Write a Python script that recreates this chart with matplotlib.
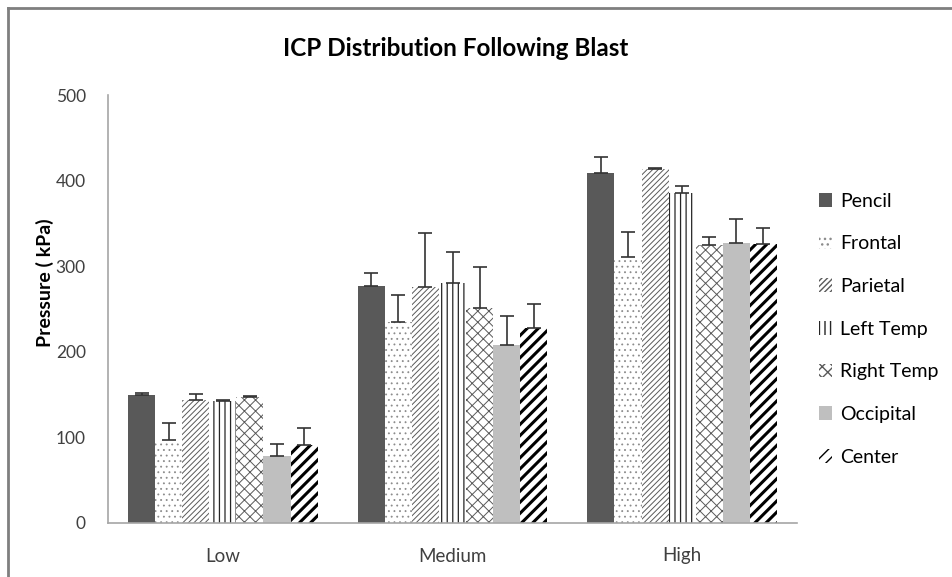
import matplotlib
matplotlib.use("Agg")
import matplotlib.pyplot as plt
import numpy as np

plt.rcParams['font.family'] = ['Lato', 'DejaVu Sans']

# data
groups = ["Low", "Medium", "High"]
series = ["Pencil", "Frontal", "Parietal", "Left Temp", "Right Temp", "Occipital", "Center"]
values = [
    [149, 277, 409],   # Pencil
    [96, 235, 310],    # Frontal
    [143, 275, 414],   # Parietal
    [142, 280, 385],   # Left Temp
    [147, 251, 325],   # Right Temp
    [78, 208, 327],    # Occipital
    [91, 227, 326],    # Center
]
errors = [
    [2, 15, 19],
    [20, 31, 30],
    [7, 64, 1],
    [1, 36, 8],
    [1, 48, 9],
    [14, 34, 28],
    [19, 29, 18],
]

# face, hatch colour, hatch, hatch width
styles = [
    ("#595959", "#595959", None, 1.0),
    ("white", "#8c8c8c", "...", 0.6),
    ("white", "#595959", "//////", 0.7),
    ("white", "#262626", "|||", 0.9),
    ("white", "#595959", "xxx", 0.7),
    ("#bfbfbf", "#bfbfbf", None, 1.0),
    ("white", "black", "///", 2.2),
]

fig = plt.figure(figsize=(9.52, 5.77), dpi=100)
ax = fig.add_axes([108/952, 1-522.5/577, (797-108)/952, (522.5-95)/577])

x = np.arange(len(groups))
width = 0.118
n = len(series)
for i, name in enumerate(series):
    face, hcol, hatch, hlw = styles[i]
    pos = x + (i - (n-1)/2) * width
    bars = ax.bar(pos, values[i], width, color=face, edgecolor=hcol, linewidth=0,
                  hatch=hatch, label=name, zorder=2)
    for b in bars:
        if hasattr(b, "set_hatch_linewidth"):
            b.set_hatch_linewidth(hlw)
    ax.errorbar(pos, values[i], yerr=[np.zeros(len(groups)), errors[i]], fmt="none",
                ecolor="#333333", elinewidth=1.2, capsize=5, capthick=1.2, zorder=3)

ax.set_xlim(-0.5, len(groups) - 0.5)
ax.set_ylim(0, 500)
ax.set_yticks(range(0, 501, 100))
ax.set_xticks(x)
ax.set_xticklabels(groups)
ax.tick_params(axis="both", length=0, colors="#404040")
ax.tick_params(axis="y", pad=16, labelsize=12.5)
ax.tick_params(axis="x", pad=18, labelsize=13.5)
for s in ["top", "right"]:
    ax.spines[s].set_visible(False)
for s in ["left", "bottom"]:
    ax.spines[s].set_color("#a6a6a6")
    ax.spines[s].set_linewidth(1.2)

ax.set_ylabel("Pressure ( kPa)", fontsize=14, fontweight="bold", color="black")
ax.yaxis.set_label_coords(-0.078, 0.56)

fig.text(0.479, 1-48/577, "ICP Distribution Following Blast", fontsize=17.5, fontweight="bold",
         ha="center", va="center")

leg = ax.legend(loc="upper left", bbox_to_anchor=(1.02, 0.79), frameon=False, fontsize=14,
                handlelength=0.7, handleheight=0.7, handletextpad=0.4, labelspacing=1.32,
                borderaxespad=0)

# chart frame (top and left edges)
fig.add_artist(plt.Line2D([8/952, 8/952], [0, 1-8/577], color="#7f7f7f", linewidth=2))
fig.add_artist(plt.Line2D([8/952, 1], [1-8/577, 1-8/577], color="#7f7f7f", linewidth=2))

fig.savefig("out.png", dpi=100)
